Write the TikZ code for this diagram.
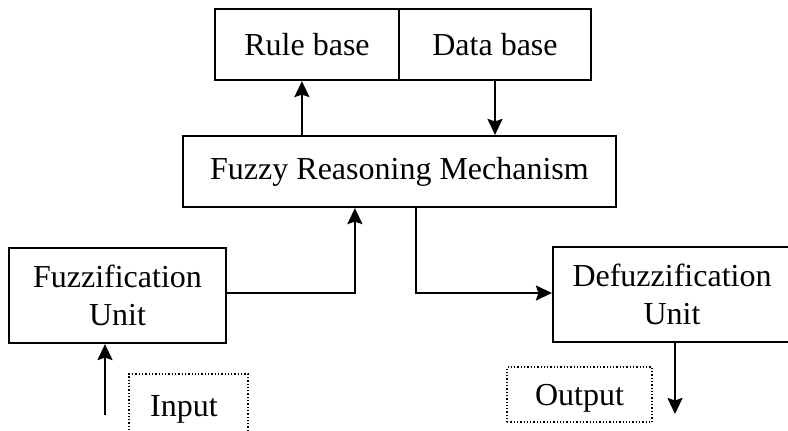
\documentclass[tikz,border=0pt]{standalone}
\usepackage{fontspec}
\setmainfont{Liberation Serif}
\usetikzlibrary{arrows.meta}
\begin{document}
\begin{tikzpicture}[x=1pt,y=-1pt,
  font=\fontsize{32}{38}\selectfont,
  box/.style={draw, line width=2.2pt, rectangle, inner sep=0pt, align=center},
  dotbox/.style={draw, dotted, line width=1.3pt, rectangle, inner sep=0pt},
  arr/.style={line width=2.2pt, -{Stealth[length=16pt,width=15pt,inset=2.5pt]}}]
\useasboundingbox (0,0) rectangle (788,431);

% knowledge base: two cells side by side
\node[box, minimum width=184pt, minimum height=71pt] (rule) at (307,44.5) {Rule base};
\node[box, minimum width=192pt, minimum height=71pt] (data) at (495,44.5) {Data base};

% inference engine
\node[box, minimum width=433pt, minimum height=71pt] (frm) at (399.5,171.5) {Fuzzy Reasoning Mechanism};

% input and output stages
\node[box, minimum width=217pt, minimum height=95pt] (fuzz) at (117.5,295.5) {Fuzzification\\Unit};
\node[box, minimum width=238pt, minimum height=95pt] (defuzz) at (672,294.5) {Defuzzification\\Unit};

% dotted labels for the signal ends
\node[dotbox, minimum width=119pt, minimum height=70pt] (input) at (188.5,409) {};
\node at (184,409) (inputtxt) {Input};
\node[dotbox, minimum width=145pt, minimum height=55pt, text depth=0pt] (output) at (579.5,394.5) {Output};

\coordinate (insrc) at (105,415);
\coordinate (outdst) at (675,414);

% connectors
\draw[arr] ([xshift=120pt]frm.north west) -- ([xshift=88pt]rule.south west);
\draw[arr] (data.south) -- (data.south |- frm.north);
\draw[arr] ([yshift=2.5pt]fuzz.east) -| ([xshift=173pt]frm.south west);
\draw[arr] ([xshift=234pt]frm.south west) |- ([yshift=1.5pt]defuzz.west);
\draw[arr] (insrc) -- (insrc |- fuzz.south);
\draw[arr] (outdst |- defuzz.south) -- (outdst);
\end{tikzpicture}
\end{document}
